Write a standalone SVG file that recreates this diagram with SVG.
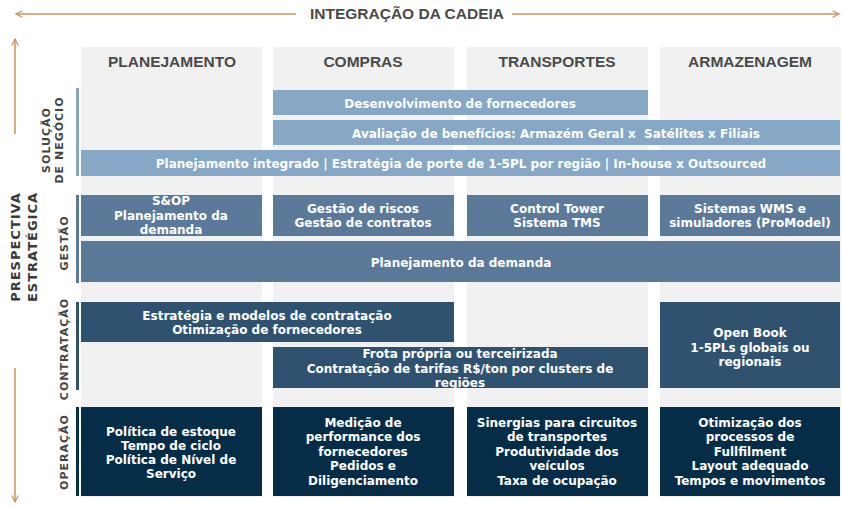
<svg xmlns="http://www.w3.org/2000/svg" width="843" height="507" viewBox="0 0 843 507">
<style>
.col{fill:#f1f1f1}
.hdr{font-family:"Liberation Sans",Arial,sans-serif;font-weight:bold;font-size:15.5px;fill:#4a4a4a;text-anchor:middle}
.t{font-family:"DejaVu Sans",sans-serif;font-weight:bold;font-size:12px;fill:#ffffff;text-anchor:middle}
.rl{font-family:"DejaVu Sans",sans-serif;font-weight:bold;font-size:11px;fill:#444444;text-anchor:middle;letter-spacing:1px}
.pe{font-family:"DejaVu Sans",sans-serif;font-weight:bold;font-size:13px;fill:#3a3a3a;text-anchor:middle;letter-spacing:1px}
.c1{fill:#86a7c5}
.c2{fill:#5b7a99}
.c3{fill:#2f5270}
.c4{fill:#062d47}
.ar{stroke:#c9955c;stroke-width:1.5;fill:none}
</style>
<defs>
<marker id="ah" viewBox="0 0 10 10" refX="9" refY="5" markerWidth="8" markerHeight="8" orient="auto-start-reverse" markerUnits="userSpaceOnUse">
<path d="M1,1 L9,5 L1,9" fill="none" stroke="#c9955c" stroke-width="1.5"/>
</marker>
</defs>

<g id="columns">
<rect class="col" x="81" y="47" width="181" height="450"/>
<rect class="col" x="273" y="47" width="181" height="450"/>
<rect class="col" x="467" y="47" width="181" height="450"/>
<rect class="col" x="660" y="47" width="181" height="450"/>
<text class="hdr" x="172" y="67">PLANEJAMENTO</text>
<text class="hdr" x="363" y="67">COMPRAS</text>
<text class="hdr" x="557" y="67">TRANSPORTES</text>
<text class="hdr" x="750" y="67">ARMAZENAGEM</text>
</g>

<g id="connectors">
<line class="ar" x1="296" y1="14" x2="16" y2="14" marker-end="url(#ah)"/>
<line class="ar" x1="512" y1="14" x2="839" y2="14" marker-end="url(#ah)"/>
<line class="ar" x1="15" y1="134" x2="15" y2="39" marker-end="url(#ah)"/>
<line class="ar" x1="15" y1="368" x2="15" y2="502" marker-end="url(#ah)"/>
</g>

<g id="titles">
<text class="hdr" x="407" y="19">INTEGRAÇÃO DA CADEIA</text>
<text class="pe" transform="translate(20,247) rotate(-90)">PRESPECTIVA</text>
<text class="pe" transform="translate(37,247) rotate(-90)">ESTRATÉGICA</text>
</g>

<g id="row-labels">
<rect class="c1" x="76" y="88" width="3" height="88"/>
<rect class="c2" x="76" y="195" width="3" height="88"/>
<rect class="c3" x="76" y="302" width="3" height="88"/>
<rect class="c4" x="76" y="407" width="3" height="89"/>
<text class="rl" transform="translate(50,140) rotate(-90)">SOLUÇÃO</text>
<text class="rl" transform="translate(63,140) rotate(-90)">DE NEGÓCIO</text>
<text class="rl" transform="translate(68,243) rotate(-90)">GESTÃO</text>
<text class="rl" transform="translate(68,349) rotate(-90)">CONTRATAÇÃO</text>
<text class="rl" transform="translate(68,452) rotate(-90)">OPERAÇÃO</text>
</g>

<g id="n-desenvolvimento"><rect class="c1" x="273" y="90" width="375" height="25"/><text class="t" x="460" y="108">Desenvolvimento de fornecedores</text></g>
<g id="n-avaliacao"><rect class="c1" x="273" y="120" width="567" height="25"/><text class="t" x="556" y="138" xml:space="preserve">Avaliação de benefícios: Armazém Geral x  Satélites x Filiais</text></g>
<g id="n-planejamento-integrado"><rect class="c1" x="81" y="150" width="759" height="26"/><text class="t" x="461" y="168">Planejamento integrado | Estratégia de porte de 1-5PL por região | In-house x Outsourced</text></g>

<g id="n-sop"><rect class="c2" x="81" y="195" width="181" height="41"/><text class="t" x="171" y="205">S&amp;OP</text><text class="t" x="171" y="220">Planejamento da</text><text class="t" x="171" y="234">demanda</text></g>
<g id="n-gestao-riscos"><rect class="c2" x="273" y="195" width="181" height="41"/><text class="t" x="363" y="213">Gestão de riscos</text><text class="t" x="363" y="227">Gestão de contratos</text></g>
<g id="n-control-tower"><rect class="c2" x="467" y="195" width="181" height="41"/><text class="t" x="557" y="213">Control Tower</text><text class="t" x="557" y="227">Sistema TMS</text></g>
<g id="n-wms"><rect class="c2" x="660" y="195" width="180" height="41"/><text class="t" x="750" y="213">Sistemas WMS e</text><text class="t" x="750" y="227">simuladores (ProModel)</text></g>
<g id="n-planejamento-demanda"><rect class="c2" x="81" y="241" width="759" height="41"/><text class="t" x="461" y="267">Planejamento da demanda</text></g>

<g id="n-estrategia"><rect class="c3" x="81" y="302" width="373" height="40"/><text class="t" x="267" y="320">Estratégia e modelos de contratação</text><text class="t" x="267" y="334">Otimização de fornecedores</text></g>
<g id="n-frota"><rect class="c3" x="273" y="347" width="375" height="41"/><text class="t" x="460" y="358">Frota própria ou terceirizada</text><text class="t" x="460" y="373">Contratação de tarifas R$/ton por clusters de</text><text class="t" x="460" y="387">regiões</text></g>
<g id="n-open-book"><rect class="c3" x="660" y="302" width="180" height="86"/><text class="t" x="750" y="337">Open Book</text><text class="t" x="750" y="352">1-5PLs globais ou</text><text class="t" x="750" y="366">regionais</text></g>

<g id="n-politica"><rect class="c4" x="81" y="407" width="181" height="89"/><text class="t" x="171" y="436">Política de estoque</text><text class="t" x="171" y="450">Tempo de ciclo</text><text class="t" x="171" y="464">Política de Nível de</text><text class="t" x="171" y="478">Serviço</text></g>
<g id="n-medicao"><rect class="c4" x="273" y="407" width="181" height="89"/><text class="t" x="363" y="427">Medição de</text><text class="t" x="363" y="441">performance dos</text><text class="t" x="363" y="456">fornecedores</text><text class="t" x="363" y="470">Pedidos e</text><text class="t" x="363" y="485">Diligenciamento</text></g>
<g id="n-sinergias"><rect class="c4" x="467" y="407" width="181" height="89"/><text class="t" x="557" y="427">Sinergias para circuitos</text><text class="t" x="557" y="441">de transportes</text><text class="t" x="557" y="456">Produtividade dos</text><text class="t" x="557" y="470">veículos</text><text class="t" x="557" y="485">Taxa de ocupação</text></g>
<g id="n-otimizacao"><rect class="c4" x="660" y="407" width="180" height="89"/><text class="t" x="750" y="427">Otimização dos</text><text class="t" x="750" y="441">processos de</text><text class="t" x="750" y="456">Fullfilment</text><text class="t" x="750" y="470">Layout adequado</text><text class="t" x="750" y="485">Tempos e movimentos</text></g>
</svg>
